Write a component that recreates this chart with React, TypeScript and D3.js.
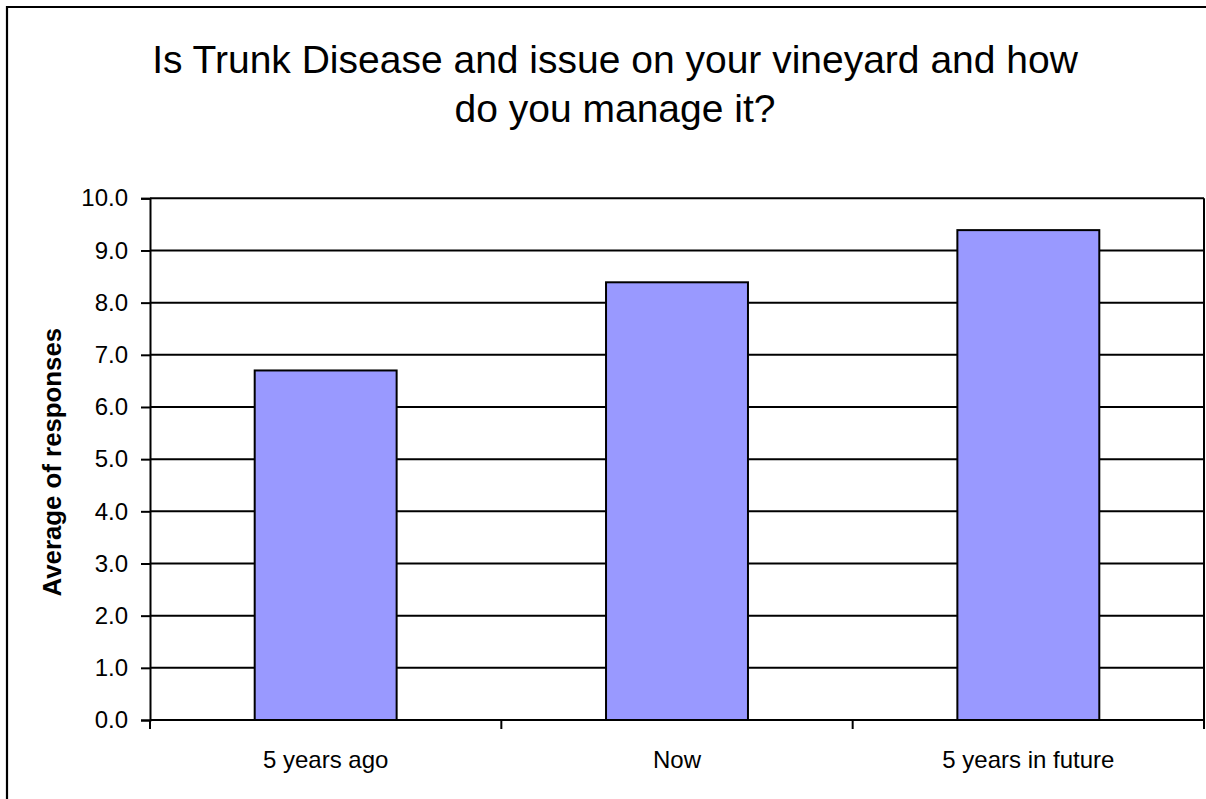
import { useEffect, useRef } from 'react';
import * as d3 from 'd3';

const categories = ['5 years ago', 'Now', '5 years in future'];
const averages = [6.7, 8.39, 9.39];
const yTicks = [0, 1, 2, 3, 4, 5, 6, 7, 8, 9, 10];
const titleLines = ['Is Trunk Disease and issue on your vineyard and how', 'do you manage it?'];
const yAxisLabel = 'Average of responses';

const FONT = 'Arial, "Liberation Sans", Helvetica, sans-serif';

export default function App() {
  const svgRef = useRef<SVGSVGElement>(null);
  const width = 1206;
  const height = 799;

  useEffect(() => {
    if (!svgRef.current) return;
    const svg = d3.select(svgRef.current);
    svg.selectAll('*').remove();

    const plot = { left: 150, right: 1204, top: 198.3, bottom: 720 };

    const x = d3.scaleBand<string>()
      .domain(categories)
      .range([plot.left, plot.right])
      .paddingInner(0.596)
      .paddingOuter(0.298);

    const y = d3.scaleLinear()
      .domain([0, 10])
      .range([plot.bottom, plot.top]);

    // outer chart border: only the left and top edges are inside the picture
    svg.append('line')
      .attr('x1', 7).attr('x2', 7)
      .attr('y1', 6).attr('y2', height)
      .attr('stroke', '#000')
      .attr('stroke-width', 2.2);
    svg.append('line')
      .attr('x1', 6).attr('x2', width)
      .attr('y1', 7).attr('y2', 7)
      .attr('stroke', '#000')
      .attr('stroke-width', 2.2);

    // title
    const title = svg.append('text')
      .attr('text-anchor', 'middle')
      .attr('font-family', FONT)
      .attr('font-size', 39)
      .attr('fill', '#000');
    titleLines.forEach((t, i) => {
      title.append('tspan')
        .attr('x', 615)
        .attr('y', 72.5 + i * 49.5)
        .text(t);
    });

    // gridlines
    svg.append('g')
      .selectAll('line')
      .data(yTicks)
      .join('line')
      .attr('x1', plot.left)
      .attr('x2', plot.right)
      .attr('y1', d => y(d))
      .attr('y2', d => y(d))
      .attr('stroke', '#000')
      .attr('stroke-width', 2);

    // plot area right border
    svg.append('line')
      .attr('x1', plot.right)
      .attr('x2', plot.right)
      .attr('y1', plot.top)
      .attr('y2', plot.bottom)
      .attr('stroke', '#000')
      .attr('stroke-width', 2);

    // bars
    svg.append('g')
      .selectAll('rect')
      .data(averages)
      .join('rect')
      .attr('x', (_, i) => x(categories[i])!)
      .attr('width', x.bandwidth())
      .attr('y', d => y(d))
      .attr('height', d => y(0) - y(d))
      .attr('fill', '#9999FF')
      .attr('stroke', '#000')
      .attr('stroke-width', 2);

    // y axis
    const yAxis = svg.append('g')
      .attr('transform', `translate(${plot.left},0)`)
      .call(d3.axisLeft(y).tickValues(yTicks).tickFormat(d3.format('.1f')).tickSize(9).tickPadding(13));
    yAxis.select('.domain').attr('stroke', '#000').attr('stroke-width', 2);
    yAxis.selectAll('.tick line').attr('stroke', '#000').attr('stroke-width', 2);
    yAxis.selectAll('.tick text')
      .attr('font-family', FONT)
      .attr('font-size', 24)
      .attr('fill', '#000');

    // x axis: line + ticks at category boundaries
    const step = x.step();
    const boundaries = d3.range(categories.length + 1).map(i => plot.left + i * step);
    svg.append('line')
      .attr('x1', plot.left)
      .attr('x2', plot.right)
      .attr('y1', plot.bottom)
      .attr('y2', plot.bottom)
      .attr('stroke', '#000')
      .attr('stroke-width', 2);
    svg.append('g')
      .selectAll('line')
      .data(boundaries)
      .join('line')
      .attr('x1', d => d)
      .attr('x2', d => d)
      .attr('y1', plot.bottom)
      .attr('y2', plot.bottom + 9)
      .attr('stroke', '#000')
      .attr('stroke-width', 2);
    svg.append('g')
      .selectAll('text')
      .data(categories)
      .join('text')
      .attr('x', d => x(d)! + x.bandwidth() / 2)
      .attr('y', 768)
      .attr('text-anchor', 'middle')
      .attr('font-family', FONT)
      .attr('font-size', 24)
      .attr('fill', '#000')
      .text(d => d);

    // y axis title
    svg.append('text')
      .attr('transform', `translate(61,${(plot.top + plot.bottom) / 2 + 3}) rotate(-90)`)
      .attr('text-anchor', 'middle')
      .attr('font-family', FONT)
      .attr('font-size', 25.8)
      .attr('font-weight', 'bold')
      .attr('fill', '#000')
      .text(yAxisLabel);
  }, []);

  return (
    <div style={{ position: 'absolute', left: 0, top: 0, background: '#fff' }}>
      <svg ref={svgRef} width={width} height={height} style={{ display: 'block' }} />
    </div>
  );
}
